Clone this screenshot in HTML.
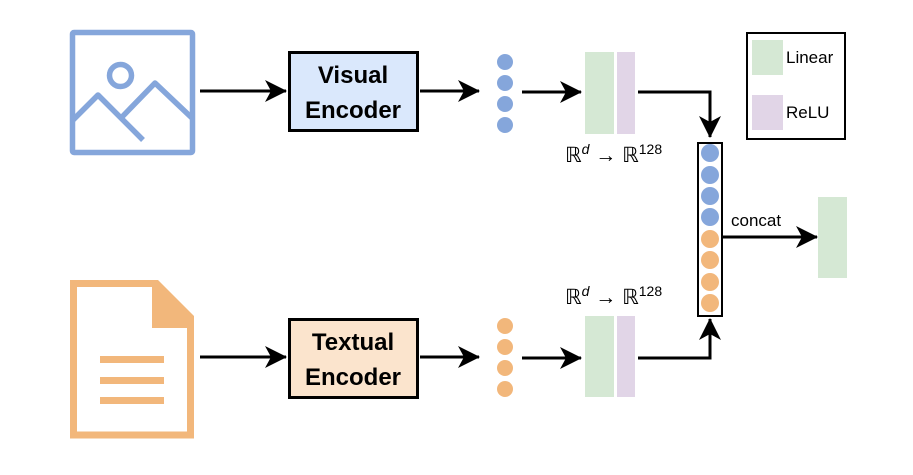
<!DOCTYPE html>
<html><head><meta charset="utf-8"><style>
html,body{margin:0;padding:0;background:#fff;width:913px;height:475px;overflow:hidden}
svg{display:block}
text{font-family:"Liberation Sans",sans-serif}
</style></head><body>
<svg width="913" height="475" viewBox="0 0 913 475" xmlns="http://www.w3.org/2000/svg">
<defs>
<marker id="ah" markerWidth="22" markerHeight="22" refX="21" refY="11" orient="auto" markerUnits="userSpaceOnUse" viewBox="0 0 22 22">
<path d="M0,0 L22,11 L0,22 L6,11 Z" fill="#000"/>
</marker>
</defs>
<g stroke="#85a6db" stroke-width="5.5" fill="none" stroke-linejoin="round">
<rect x="72.5" y="32.5" width="120" height="120" rx="1.5"/>
<circle cx="120.5" cy="75.5" r="11"/>
<polyline points="73,120 98,95 143,140"/>
<polyline points="122,117 155,83 192,118"/>
</g>
<g>
<path d="M73.5,283.5 L155,283.5 L190.5,318 L190.5,435 L73.5,435 Z" fill="none" stroke="#f2b77b" stroke-width="7"/>
<path d="M152,280 L158,280 L194,316 L194,328 L152,328 Z" fill="#f2b77b"/>
<rect x="100" y="356" width="64" height="7" fill="#f2b77b"/>
<rect x="100" y="377" width="64" height="7" fill="#f2b77b"/>
<rect x="100" y="397" width="64" height="7" fill="#f2b77b"/>
</g>
<g stroke="#000" stroke-width="3" fill="none">
<line x1="200" y1="91" x2="286" y2="91" marker-end="url(#ah)"/>
<line x1="200" y1="357" x2="286" y2="357" marker-end="url(#ah)"/>
<line x1="420" y1="91" x2="479" y2="91" marker-end="url(#ah)"/>
<line x1="420" y1="357" x2="479" y2="357" marker-end="url(#ah)"/>
<line x1="522" y1="92" x2="581" y2="92" marker-end="url(#ah)"/>
<line x1="522" y1="358" x2="581" y2="358" marker-end="url(#ah)"/>
<polyline points="638,92 710,92 710,137" marker-end="url(#ah)"/>
<polyline points="638,358 710,358 710,319" marker-end="url(#ah)"/>
<line x1="722" y1="237" x2="817" y2="237" marker-end="url(#ah)"/>
</g>
<rect x="289.5" y="52.5" width="128" height="78" fill="#dae8fc" stroke="#000" stroke-width="3"/>
<text x="353" y="83" font-size="24" font-weight="bold" text-anchor="middle">Visual</text>
<text x="353" y="118" font-size="24" font-weight="bold" text-anchor="middle">Encoder</text>
<rect x="289.5" y="319.5" width="128" height="78" fill="#fbe4cd" stroke="#000" stroke-width="3"/>
<text x="353" y="350" font-size="24" font-weight="bold" text-anchor="middle">Textual</text>
<text x="353" y="385" font-size="24" font-weight="bold" text-anchor="middle">Encoder</text>
<g fill="#85a6db"><circle cx="505" cy="62" r="8"/><circle cx="505" cy="83" r="8"/><circle cx="505" cy="104" r="8"/><circle cx="505" cy="125" r="8"/></g>
<g fill="#f2b77b"><circle cx="505" cy="326" r="8"/><circle cx="505" cy="347" r="8"/><circle cx="505" cy="368" r="8"/><circle cx="505" cy="389" r="8"/></g>
<rect x="585" y="52" width="29" height="82" fill="#d5e8d4"/>
<rect x="617" y="52" width="18" height="82" fill="#e1d5e7"/>
<rect x="585" y="316" width="29" height="81" fill="#d5e8d4"/>
<rect x="617" y="316" width="18" height="81" fill="#e1d5e7"/>
<g font-family="'DejaVu Serif',serif" font-size="21">
<text x="565" y="162">ℝ<tspan font-size="14" dy="-8" font-style="italic">d</tspan><tspan dy="8"> → ℝ</tspan><tspan font-size="14" dy="-8">128</tspan></text>
<text x="565" y="304">ℝ<tspan font-size="14" dy="-8" font-style="italic">d</tspan><tspan dy="8"> → ℝ</tspan><tspan font-size="14" dy="-8">128</tspan></text>
</g>
<rect x="698" y="143" width="24" height="173" fill="#fff" stroke="#000" stroke-width="2"/>
<g fill="#85a6db"><circle cx="710" cy="153" r="9"/><circle cx="710" cy="175" r="9"/><circle cx="710" cy="196" r="9"/><circle cx="710" cy="217" r="9"/></g>
<g fill="#f2b77b"><circle cx="710" cy="239" r="9"/><circle cx="710" cy="260" r="9"/><circle cx="710" cy="282" r="9"/><circle cx="710" cy="303" r="9"/></g>
<text x="731" y="226" font-size="17">concat</text>
<rect x="818" y="197" width="29" height="81" fill="#d5e8d4"/>
<rect x="747" y="33" width="98" height="106" fill="#fff" stroke="#000" stroke-width="2"/>
<rect x="752" y="40" width="31" height="35" fill="#d5e8d4"/>
<rect x="752" y="95" width="31" height="35" fill="#e1d5e7"/>
<text x="786" y="63" font-size="17">Linear</text>
<text x="786" y="118" font-size="17">ReLU</text>
</svg>
</body></html>
